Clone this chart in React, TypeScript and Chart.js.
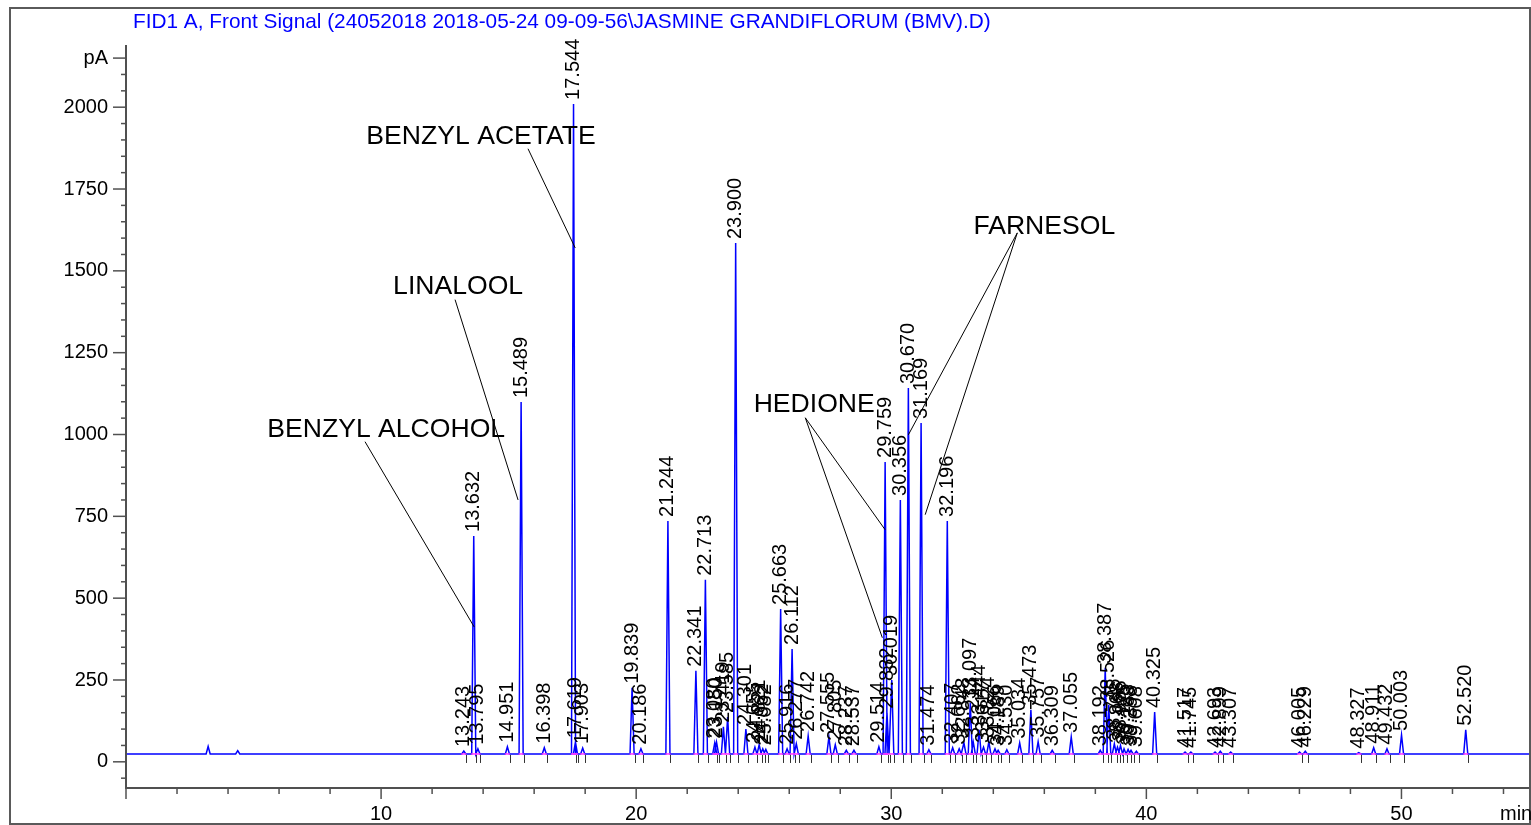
import React, { useEffect, useRef } from 'react';
import { Chart, registerables } from 'chart.js';

Chart.register(...registerables);

const TITLE = 'FID1 A, Front Signal (24052018 2018-05-24 09-09-56\\JASMINE GRANDIFLORUM (BMV).D)';
const Y_UNIT = 'pA';
const X_UNIT = 'min';
const BASELINE = 24;

// labelled peaks: retention time (min) and apex signal (pA)
const peakTimes = [
  13.243, 13.632, 13.795, 14.951, 15.489, 16.398, 17.544, 17.619, 17.903, 19.839,
  20.186, 21.244, 22.341, 22.713, 23.080, 23.150, 23.419, 23.585, 23.900, 24.301,
  24.655, 24.821, 24.962, 25.082, 25.663, 25.916, 26.112, 26.277, 26.742, 27.555,
  27.805, 28.237, 28.537, 29.514, 29.759, 29.832, 30.019, 30.356, 30.670, 31.169,
  31.474, 32.196, 32.407, 32.662, 32.848, 33.097, 33.214, 33.444, 33.617, 33.824,
  34.066, 34.189, 34.530, 35.034, 35.473, 35.757, 36.309, 37.055, 38.192, 38.387,
  38.526, 38.745, 38.868, 38.986, 39.125, 39.283, 39.398, 39.608, 40.325, 41.517,
  41.745, 42.693, 42.899, 43.307, 46.005, 46.229, 48.327, 48.911, 49.432, 50.003,
  52.520,
];
const peakHeights = [
  33, 690, 40, 46, 1099, 43, 2010, 60, 42, 226,
  40, 736, 278, 556, 58, 60, 107, 137, 1585, 100,
  45, 52, 40, 38, 467, 40, 345, 55, 79, 76,
  52, 35, 35, 46, 916, 150, 250, 800, 1142, 1035,
  37, 736, 43, 40, 58, 180, 60, 98, 45, 61,
  40, 35, 37, 58, 159, 61, 35, 76, 35, 287,
  174, 55, 45, 50, 40, 38, 35, 32, 152, 30,
  30, 30, 32, 30, 30, 32, 28, 43, 40, 82,
  98,
];
const peakLabels = peakTimes.map((t) => t.toFixed(3));

// small unlabelled disturbances
const minorPeakTimes = [3.22, 4.38];
const minorPeakHeights = [47, 34];

// compound annotations (data coordinates)
const annotationTexts = ['BENZYL ALCOHOL', 'LINALOOL', 'BENZYL ACETATE', 'HEDIONE', 'FARNESOL'];
const annotationAnchors = [
  [10.2, 1014], [13.02, 1451], [13.92, 1910], [26.98, 1091], [36.0, 1635],
];
const annotationLeaders = [
  [[9.37, 978, 13.65, 412]],
  [[12.9, 1412, 15.37, 800]],
  [[15.76, 1873, 17.61, 1570]],
  [[26.63, 1051, 29.76, 709], [26.63, 1051, 29.65, 379]],
  [[34.94, 1616, 30.67, 999], [34.94, 1616, 31.33, 755]],
];

const X_MIN = 0;
const X_MAX = 55;
const Y_MIN = -80;
const Y_MAX = 2190;
const X_STEP = 2;
const Y_STEP = 50;

const HALF_WIDTH = 0.08;
const FONT = '"Liberation Sans", Arial, Helvetica, sans-serif';

function buildTrace() {
  const all: { t: number; h: number }[] = [];
  peakTimes.forEach((t, i) => all.push({ t, h: peakHeights[i] }));
  minorPeakTimes.forEach((t, i) => all.push({ t, h: minorPeakHeights[i] }));
  all.sort((a, b) => a.t - b.t);
  const pts: { x: number; y: number }[] = [{ x: X_MIN, y: BASELINE }];
  all.forEach((p) => {
    pts.push({ x: p.t - HALF_WIDTH, y: BASELINE });
    pts.push({ x: p.t, y: p.h });
    pts.push({ x: p.t + HALF_WIDTH, y: BASELINE });
  });
  pts.push({ x: X_MAX, y: BASELINE });
  return pts;
}

const decorPlugin = {
  id: 'chromDecor',
  beforeDraw(chart: any) {
    const { ctx, width, height } = chart;
    ctx.save();
    ctx.fillStyle = '#ffffff';
    ctx.fillRect(0, 0, width, height);
    ctx.restore();
  },
  afterDatasetsDraw(chart: any) {
    const { ctx } = chart;
    const xs = chart.scales.x;
    const ys = chart.scales.y;
    const by = ys.getPixelForValue(BASELINE);
    ctx.save();
    // integration baselines (magenta) and event ticks
    ctx.strokeStyle = '#ff33ff';
    ctx.lineWidth = 1.5;
    peakTimes.forEach((t) => {
      ctx.beginPath();
      ctx.moveTo(xs.getPixelForValue(t - 0.1), by);
      ctx.lineTo(xs.getPixelForValue(t + 0.1), by);
      ctx.stroke();
    });
    ctx.strokeStyle = '#333333';
    ctx.lineWidth = 1;
    peakTimes.forEach((t) => {
      const px = Math.round(xs.getPixelForValue(t + 0.1)) + 0.5;
      ctx.beginPath();
      ctx.moveTo(px, by + 1);
      ctx.lineTo(px, by + 9);
      ctx.stroke();
    });
    // retention time labels
    ctx.fillStyle = '#000000';
    ctx.font = `20px ${FONT}`;
    ctx.textAlign = 'left';
    ctx.textBaseline = 'middle';
    peakTimes.forEach((t, i) => {
      const px = xs.getPixelForValue(t);
      const py = ys.getPixelForValue(peakHeights[i]);
      ctx.save();
      ctx.translate(px, py - 4);
      ctx.rotate(-Math.PI / 2);
      ctx.fillText(peakLabels[i], 0, 0);
      ctx.restore();
    });
    // compound annotations
    ctx.strokeStyle = '#000000';
    ctx.lineWidth = 1;
    annotationLeaders.forEach((segs) => {
      segs.forEach(([x1, y1, x2, y2]) => {
        ctx.beginPath();
        ctx.moveTo(xs.getPixelForValue(x1), ys.getPixelForValue(y1));
        ctx.lineTo(xs.getPixelForValue(x2), ys.getPixelForValue(y2));
        ctx.stroke();
      });
    });
    ctx.font = `26.6px ${FONT}`;
    ctx.textAlign = 'center';
    ctx.textBaseline = 'middle';
    annotationTexts.forEach((txt, i) => {
      const [ax, ay] = annotationAnchors[i];
      ctx.fillText(txt, xs.getPixelForValue(ax), ys.getPixelForValue(ay));
    });
    ctx.restore();
  },
  afterDraw(chart: any) {
    const { ctx, chartArea } = chart;
    const xs = chart.scales.x;
    const ys = chart.scales.y;
    ctx.save();
    // outer frame
    ctx.strokeStyle = '#5a5a5a';
    ctx.lineWidth = 2;
    ctx.strokeRect(10, 8, 1520, 816);
    // axis lines
    ctx.strokeStyle = '#505050';
    ctx.lineWidth = 2;
    ctx.beginPath();
    ctx.moveTo(chartArea.left, chartArea.top);
    ctx.lineTo(chartArea.left, chartArea.bottom);
    ctx.lineTo(chartArea.right, chartArea.bottom);
    ctx.stroke();
    // tick marks
    ctx.lineWidth = 1.5;
    xs.ticks.forEach((tk: any) => {
      const px = xs.getPixelForValue(tk.value);
      const len = tk.value % 10 === 0 ? 11 : 6;
      ctx.beginPath();
      ctx.moveTo(px, chartArea.bottom);
      ctx.lineTo(px, chartArea.bottom + len);
      ctx.stroke();
    });
    ys.ticks.forEach((tk: any) => {
      const py = ys.getPixelForValue(tk.value);
      const major = tk.label !== '';
      const len = major ? 13 : 5;
      ctx.beginPath();
      ctx.moveTo(chartArea.left, py);
      ctx.lineTo(chartArea.left - len, py);
      ctx.stroke();
    });
    // x unit
    ctx.fillStyle = '#000000';
    ctx.font = `20px ${FONT}`;
    ctx.textAlign = 'left';
    ctx.textBaseline = 'middle';
    ctx.fillText(X_UNIT, 1500, 814);
    // title
    ctx.fillStyle = '#0000ff';
    ctx.font = `20.8px ${FONT}`;
    ctx.textAlign = 'left';
    ctx.textBaseline = 'alphabetic';
    ctx.fillText(TITLE, 133, 28);
    ctx.restore();
  },
};

export default function App() {
  const ref = useRef<HTMLCanvasElement | null>(null);
  useEffect(() => {
    document.body.style.margin = '0';
    if (!ref.current) return;
    const chart = new Chart(ref.current, {
      type: 'line',
      data: {
        datasets: [
          {
            label: 'FID1 A',
            data: buildTrace(),
            borderColor: '#0000ff',
            borderWidth: 1.5,
            pointRadius: 0,
            tension: 0,
            fill: false,
          },
        ],
      },
      options: {
        animation: false,
        responsive: false,
        devicePixelRatio: 1,
        layout: { padding: { top: 45, right: 2, left: 0, bottom: 0 } },
        plugins: { legend: { display: false }, tooltip: { enabled: false }, title: { display: false } },
        scales: {
          x: {
            type: 'linear',
            min: X_MIN,
            max: X_MAX,
            grid: { display: false, drawTicks: false },
            border: { display: false },
            ticks: {
              stepSize: X_STEP,
              includeBounds: false,
              autoSkip: false,
              maxRotation: 0,
              minRotation: 0,
              padding: 14,
              color: '#000000',
              font: { family: FONT, size: 20 },
              callback: (v: any) => (Number(v) % 10 === 0 && Number(v) > 0 ? String(v) : ''),
            },
            afterFit: (s: any) => { s.height = 37; },
          },
          y: {
            type: 'linear',
            min: Y_MIN,
            max: Y_MAX,
            grid: { display: false, drawTicks: false },
            border: { display: false },
            ticks: {
              stepSize: Y_STEP,
              includeBounds: false,
              autoSkip: false,
              padding: 18,
              color: '#000000',
              font: { family: FONT, size: 20 },
              callback: (v: any) => {
                const n = Number(v);
                if (n === 2150) return Y_UNIT;
                if (n >= 0 && n <= 2000 && n % 250 === 0) return String(n);
                return '';
              },
            },
            afterFit: (s: any) => { s.width = 126; },
          },
        },
      },
      plugins: [decorPlugin],
    });
    return () => chart.destroy();
  }, []);
  return (
    <div style={{ position: 'absolute', left: 0, top: 0, width: 1531, height: 825 }}>
      <canvas ref={ref} width={1531} height={825} style={{ display: 'block' }} />
    </div>
  );
}
